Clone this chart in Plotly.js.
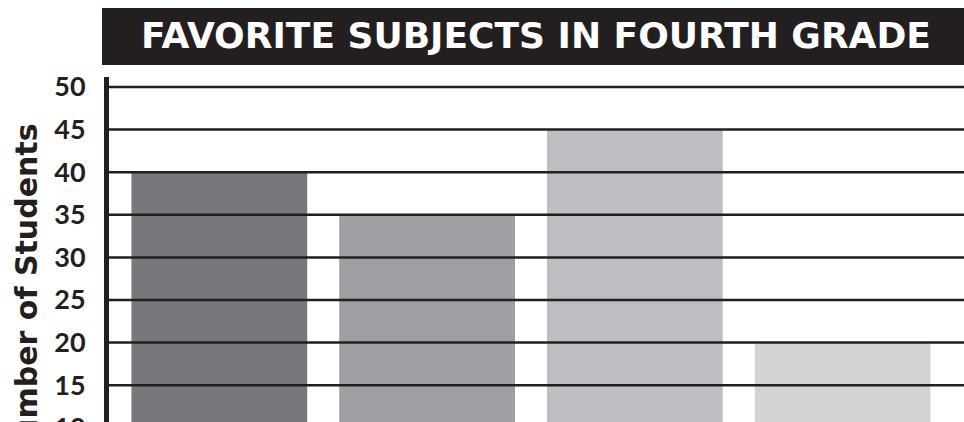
<!DOCTYPE html>
<html>
<head>
<meta charset="utf-8">
<script src="https://cdn.plot.ly/plotly-3.0.1.min.js"></script>
<style>
html,body{margin:0;padding:0;overflow:hidden;background:#fff;}
#chart{width:964px;height:573px;}
</style>
</head>
<body>
<div id="chart"></div>
<script>
const subjects = ["Math", "Reading", "Science", "Art"];
const students = [40, 35, 45, 20];
const barColors = ["#77787c", "#9e9fa3", "#bdbec1", "#d1d2d4"];
const tickVals = [0, 5, 10, 15, 20, 25, 30, 35, 40, 45, 50];
const chartTitle = "FAVORITE SUBJECTS IN FOURTH GRADE";
const yTitle = "Number of Students";

const W = 964, H = 573;
const mL = 109, mR = 0, mT = 77, mB = 60;
const plotH = H - mT - mB;   // 436
const plotW = W - mL - mR;   // 855
const pxY = v => (H - mB - v) / plotH;  // container px -> paper y
const pxX = v => (v - mL) / plotW;

const ink = "#231f20";
const font = "Lato, 'Open Sans', sans-serif";
const wide = "'DejaVu Sans', sans-serif";

const gridShapes = tickVals.map(v => ({
  type: "line", xref: "paper", yref: "y", x0: 0, x1: 1, y0: v, y1: v,
  line: {color: ink, width: 2.5}, layer: "above"
}));

const banner = {
  type: "rect", xref: "paper", yref: "paper",
  x0: pxX(102), x1: 1, y0: pxY(65), y1: pxY(8),
  fillcolor: ink, line: {width: 0}, layer: "below"
};

const data = [{
  type: "bar",
  x: subjects,
  y: students,
  marker: {color: barColors, line: {width: 0}},
  hoverinfo: "x+y"
}];

const layout = {
  width: W, height: H,
  margin: {l: mL, r: mR, t: mT, b: mB, pad: 0},
  paper_bgcolor: "#fff", plot_bgcolor: "#fff",
  showlegend: false,
  bargap: 0.154,
  title: {
    text: chartTitle,
    font: {family: wide, size: 36, color: "#fff", weight: "bold"},
    xref: "paper", x: pxX(536), xanchor: "center",
    yref: "container", y: 1 - 35/H, yanchor: "middle"
  },
  xaxis: {
    type: "category",
    range: [-0.531, 3.584],
    showgrid: false, zeroline: false, showline: false,
    showticklabels: false, ticks: ""
  },
  yaxis: {
    range: [0, 51.17],
    tickvals: tickVals,
    ticktext: tickVals.map(String),
    showgrid: false, zeroline: false,
    showline: true, linewidth: 5, linecolor: ink,
    ticks: "outside", ticklen: 13, tickcolor: "rgba(0,0,0,0)",
    tickfont: {family: font, size: 27, color: ink, weight: "bold"}
  },
  shapes: [banner].concat(gridShapes),
  annotations: [{
    text: yTitle, textangle: -90, showarrow: false,
    xref: "paper", yref: "paper",
    x: pxX(26), xanchor: "center",
    y: pxY(121), yanchor: "top",
    font: {family: wide, size: 30, color: ink, weight: "bold"}
  }]
};

Plotly.newPlot("chart", data, layout, {displayModeBar: false, staticPlot: true});
</script>
</body>
</html>
